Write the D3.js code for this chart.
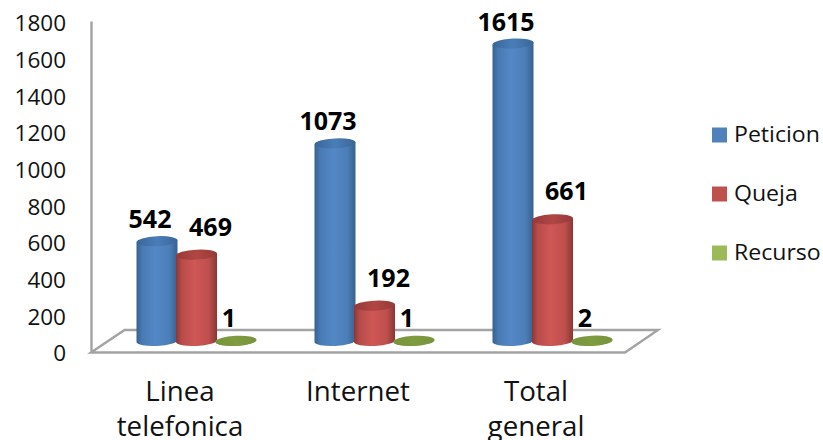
<!DOCTYPE html>
<html>
<head>
<meta charset="utf-8">
<script src="https://cdn.jsdelivr.net/npm/d3@7"></script>
<style>
  html, body { margin: 0; padding: 0; background: #fff; }
  svg { display: block; font-family: "Open Sans", sans-serif; }
</style>
</head>
<body>
<svg id="chart" width="823" height="440"></svg>
<script>
const categories = [["Linea", "telefonica"], ["Internet"], ["Total", "general"]];
const seriesNames = ["Peticion", "Queja", "Recurso"];
const peticion = [542, 1073, 1615];
const queja = [469, 192, 661];
const recurso = [1, 1, 2];
const yTicks = [0, 200, 400, 600, 800, 1000, 1200, 1400, 1600, 1800];

const seriesValues = [peticion, queja, recurso];
const palette = [
  { key: "#4f81bd", edge: "#37618f", mid: "#5387c6", top: "#3a6698", topHi: "#4a7db8" },
  { key: "#c0504d", edge: "#8a3735", mid: "#cf5755", top: "#963a38", topHi: "#b04644" },
  { key: "#9bbb59", edge: "#77933c", mid: "#77933c", top: "#77933c", topHi: "#7f9c41" }
];

const svg = d3.select("#chart");
const defs = svg.append("defs");

// Horizontal shading that gives each column its rounded look
palette.forEach((c, i) => {
  const side = defs.append("linearGradient").attr("id", `side${i}`);
  side.append("stop").attr("offset", "0%").attr("stop-color", c.edge);
  side.append("stop").attr("offset", "14%").attr("stop-color", d3.interpolateRgb(c.edge, c.mid)(0.65));
  side.append("stop").attr("offset", "45%").attr("stop-color", c.mid);
  side.append("stop").attr("offset", "80%").attr("stop-color", d3.interpolateRgb(c.edge, c.mid)(0.75));
  side.append("stop").attr("offset", "100%").attr("stop-color", c.edge);
  const cap = defs.append("linearGradient").attr("id", `cap${i}`);
  cap.append("stop").attr("offset", "0%").attr("stop-color", c.top);
  cap.append("stop").attr("offset", "50%").attr("stop-color", c.topHi);
  cap.append("stop").attr("offset", "100%").attr("stop-color", c.top);
});

const axisColor = "#a3a3a3";

// Value scale for the tick labels on the back wall, and the same span for columns on the floor
const yAxisScale = d3.scaleLinear().domain([0, 1800]).range([351, 21]);
const yBar = d3.scaleLinear().domain([0, 1800]).range([341, 9.5]);

const xGroup = d3.scalePoint().domain(d3.range(categories.length)).range([196.5, 552.5]);
const xSeries = d3.scalePoint().domain(d3.range(seriesNames.length)).range([-39.5, 39.5]);
const rx = 20.5, ry = 5, tilt = -3;
const lift = rx * Math.sin(-tilt * Math.PI / 180);

// Floor of the 3D plot
const floor = [[91, 352.5], [124.5, 330], [658, 330], [625, 352.5]];
svg.append("path")
  .attr("d", d3.line()(floor) + "Z")
  .attr("fill", "#fff")
  .attr("stroke", axisColor)
  .attr("stroke-width", 2.4)
  .attr("stroke-linejoin", "miter");

// Value axis: the domain line is the wall edge, ticks are label-only
const axisG = svg.append("g")
  .attr("transform", "translate(91,0)")
  .call(d3.axisLeft(yAxisScale).tickValues(yTicks).tickSize(0).tickPadding(25).tickFormat(d3.format("d")));
axisG.select(".domain").attr("stroke", axisColor).attr("stroke-width", 2.4);
axisG.selectAll("text")
  .attr("y", 2.5)
  .attr("font-family", '"Open Sans", sans-serif')
  .attr("font-size", 22.5)
  .attr("fill", "#111");

// Columns, in series order so each one overlaps the previous
const labelOffset = { x: [-7, 14, -7], y: [-13, -19, -14] };
categories.forEach((_, ci) => {
  seriesValues.forEach((vals, si) => {
    const cx = xGroup(ci) + xSeries(si);
    const top = yBar(vals[ci]);
    const base = yBar(0);
    const g = svg.append("g");
    g.append("path")
      .attr("d", `M${cx - rx},${top + lift}L${cx - rx},${base + lift}` +
                 `A${rx},${ry} ${tilt} 0 0 ${cx + rx},${base - lift}L${cx + rx},${top - lift}Z`)
      .attr("fill", `url(#side${si})`);
    g.append("ellipse")
      .attr("rx", rx).attr("ry", ry)
      .attr("transform", `translate(${cx},${top}) rotate(${tilt})`)
      .attr("fill", `url(#cap${si})`);
  });
});

// Data labels sit above everything else
categories.forEach((_, ci) => {
  seriesValues.forEach((vals, si) => {
    svg.append("text")
      .attr("x", xGroup(ci) + xSeries(si) + labelOffset.x[si])
      .attr("y", yBar(vals[ci]) + labelOffset.y[si])
      .attr("text-anchor", "middle")
      .attr("font-size", 25)
      .attr("font-weight", 700)
      .attr("fill", "#000")
      .text(vals[ci]);
  });
});

// Category labels, wrapped on two lines where needed
categories.forEach((lines, ci) => {
  lines.forEach((line, li) => {
    svg.append("text")
      .attr("transform", `translate(${xGroup(ci) - 16.5},${400.5 + li * 35}) scale(1.045,1)`)
      .attr("text-anchor", "middle")
      .attr("font-size", 26.5)
      .attr("fill", "#111")
      .text(line);
  });
});

// Legend
const legendY = d3.scalePoint().domain(seriesNames).range([135, 253]);
const legend = svg.append("g").selectAll("g").data(seriesNames).join("g")
  .attr("transform", d => `translate(712,${legendY(d)})`);
legend.append("rect")
  .attr("y", -7.5).attr("width", 15).attr("height", 15)
  .attr("fill", (d, i) => palette[i].key);
legend.append("text")
  .attr("transform", "translate(22,7) scale(1.1,1)")
  .attr("font-size", 21)
  .attr("fill", "#111")
  .text(d => d);
</script>
</body>
</html>
